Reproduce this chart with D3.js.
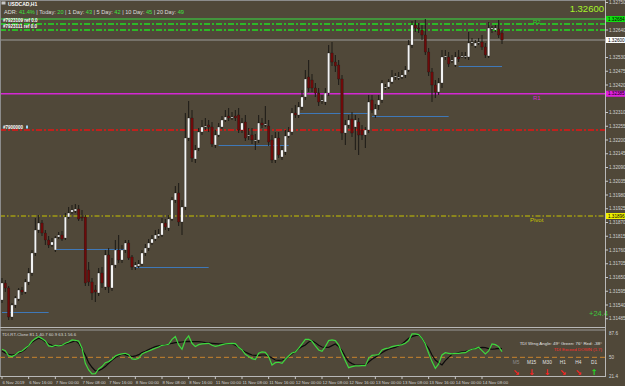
<!DOCTYPE html>
<html>
<head>
<meta charset="utf-8">
<script src="https://cdn.jsdelivr.net/npm/d3@7"></script>
<style>
  html, body { margin: 0; padding: 0; background: #504839; }
  svg { display: block; font-family: "Liberation Sans", Arial, sans-serif; }
</style>
</head>
<body>
<div id="chart"></div>
<script>
// USDCAD H1 candles, one per hour (bar 0 = 6 Nov 08:00)
const opens = [
  1.31560,1.31628,1.31608,1.31492,1.31540,1.31564,1.31600,1.31592,1.31632,1.31668,
  1.31748,1.31840,1.31868,1.31828,1.31800,1.31780,1.31760,1.31812,1.31820,1.31808,
  1.31892,1.31912,1.31916,1.31924,1.31892,1.31892,1.31680,1.31632,1.31600,1.31588,
  1.31668,1.31612,1.31740,1.31608,1.31700,1.31760,1.31720,1.31760,1.31788,1.31732,
  1.31692,1.31696,1.31704,1.31748,1.31768,1.31788,1.31804,1.31816,1.31820,1.31868,
  1.31848,1.31884,1.31960,1.31988,1.31872,1.31932,1.32208,1.32288,1.32124,1.32168,
  1.32232,1.32252,1.32260,1.32252,1.32180,1.32220,1.32252,1.32280,1.32296,1.32288,
  1.32296,1.32300,1.32240,1.32272,1.32216,1.32220,1.32196,1.32200,1.32268,1.32260,
  1.32256,1.32200,1.32120,1.32208,1.32132,1.32152,1.32216,1.32232,1.32308,1.32300,
  1.32332,1.32372,1.32452,1.32440,1.32408,1.32388,1.32356,1.32352,1.32388,1.32548,
  1.32512,1.32500,1.32444,1.32228,1.32260,1.32284,1.32252,1.32272,1.32240,1.32220,
  1.32240,1.32360,1.32300,1.32340,1.32360,1.32408,1.32412,1.32432,1.32452,1.32448,
  1.32452,1.32460,1.32480,1.32580,1.32660,1.32648,1.32640,1.32620,1.32552,1.32472,
  1.32420,1.32392,1.32428,1.32532,1.32532,1.32516,1.32500,1.32532,1.32532,1.32532,
  1.32532,1.32588,1.32576,1.32588,1.32592,1.32572,1.32536,1.32644,1.32640,1.32644,
  1.32628
];
const highs = [
  1.31648,1.31640,1.31616,1.31548,1.31576,1.31608,1.31612,1.31644,1.31688,1.31760,
  1.31888,1.31900,1.31880,1.31840,1.31816,1.31808,1.31816,1.31832,1.31836,1.31908,
  1.31932,1.31940,1.31944,1.31940,1.31920,1.31900,1.31712,1.31648,1.31620,1.31688,
  1.31692,1.31760,1.31768,1.31728,1.31800,1.31820,1.31780,1.31800,1.31800,1.31740,
  1.31712,1.31720,1.31760,1.31784,1.31804,1.31820,1.31840,1.31844,1.31888,1.31884,
  1.31900,1.31972,1.32016,1.32028,1.31960,1.32308,1.32356,1.32320,1.32180,1.32248,
  1.32280,1.32288,1.32280,1.32272,1.32240,1.32268,1.32296,1.32320,1.32328,1.32312,
  1.32320,1.32328,1.32288,1.32300,1.32248,1.32248,1.32224,1.32300,1.32288,1.32336,
  1.32280,1.32220,1.32232,1.32232,1.32176,1.32240,1.32252,1.32328,1.32340,1.32352,
  1.32400,1.32480,1.32520,1.32464,1.32428,1.32408,1.32380,1.32408,1.32580,1.32592,
  1.32540,1.32520,1.32460,1.32280,1.32300,1.32312,1.32300,1.32288,1.32260,1.32252,
  1.32380,1.32380,1.32344,1.32380,1.32440,1.32424,1.32444,1.32480,1.32468,1.32472,
  1.32480,1.32496,1.32600,1.32676,1.32680,1.32668,1.32660,1.32684,1.32568,1.32488,
  1.32440,1.32448,1.32560,1.32560,1.32552,1.32540,1.32552,1.32560,1.32552,1.32552,
  1.32632,1.32608,1.32600,1.32608,1.32620,1.32588,1.32672,1.32656,1.32660,1.32680,
  1.32640
];
const lows = [
  1.31548,1.31592,1.31480,1.31480,1.31528,1.31556,1.31580,1.31584,1.31620,1.31656,
  1.31736,1.31828,1.31816,1.31780,1.31768,1.31772,1.31752,1.31804,1.31796,1.31800,
  1.31884,1.31904,1.31908,1.31876,1.31876,1.31616,1.31616,1.31560,1.31552,1.31576,
  1.31608,1.31600,1.31588,1.31596,1.31688,1.31708,1.31708,1.31748,1.31720,1.31680,
  1.31680,1.31688,1.31696,1.31736,1.31756,1.31780,1.31796,1.31808,1.31812,1.31840,
  1.31836,1.31876,1.31948,1.31856,1.31820,1.31920,1.32196,1.32112,1.32108,1.32156,
  1.32220,1.32240,1.32232,1.32172,1.32168,1.32212,1.32244,1.32272,1.32276,1.32280,
  1.32276,1.32228,1.32228,1.32196,1.32200,1.32184,1.32160,1.32188,1.32248,1.32252,
  1.32176,1.32108,1.32108,1.32128,1.32120,1.32140,1.32208,1.32220,1.32288,1.32288,
  1.32320,1.32360,1.32392,1.32392,1.32372,1.32336,1.32344,1.32340,1.32376,1.32496,
  1.32472,1.32420,1.32200,1.32180,1.32248,1.32212,1.32160,1.32140,1.32200,1.32168,
  1.32228,1.32308,1.32288,1.32320,1.32348,1.32400,1.32404,1.32424,1.32440,1.32440,
  1.32444,1.32448,1.32472,1.32568,1.32632,1.32628,1.32600,1.32540,1.32456,1.32352,
  1.32368,1.32380,1.32408,1.32520,1.32492,1.32508,1.32492,1.32512,1.32528,1.32524,
  1.32520,1.32576,1.32568,1.32580,1.32560,1.32528,1.32528,1.32628,1.32632,1.32608,
  1.32584
];
const closes = [
  1.31628,1.31608,1.31492,1.31540,1.31568,1.31600,1.31592,1.31632,1.31668,1.31748,
  1.31840,1.31868,1.31828,1.31800,1.31780,1.31792,1.31808,1.31820,1.31804,1.31892,
  1.31908,1.31920,1.31924,1.31884,1.31888,1.31628,1.31632,1.31588,1.31592,1.31668,
  1.31628,1.31740,1.31612,1.31700,1.31760,1.31720,1.31760,1.31788,1.31728,1.31692,
  1.31700,1.31704,1.31748,1.31768,1.31788,1.31804,1.31820,1.31824,1.31868,1.31852,
  1.31884,1.31960,1.31988,1.31872,1.31932,1.32208,1.32288,1.32128,1.32160,1.32232,
  1.32252,1.32256,1.32252,1.32184,1.32220,1.32252,1.32280,1.32292,1.32288,1.32292,
  1.32288,1.32240,1.32268,1.32208,1.32220,1.32200,1.32200,1.32268,1.32260,1.32264,
  1.32192,1.32120,1.32208,1.32140,1.32160,1.32216,1.32232,1.32308,1.32300,1.32332,
  1.32372,1.32444,1.32408,1.32408,1.32388,1.32352,1.32360,1.32388,1.32548,1.32512,
  1.32496,1.32444,1.32228,1.32260,1.32280,1.32228,1.32280,1.32220,1.32220,1.32240,
  1.32352,1.32320,1.32324,1.32360,1.32428,1.32412,1.32432,1.32452,1.32456,1.32452,
  1.32460,1.32480,1.32580,1.32660,1.32648,1.32644,1.32620,1.32552,1.32472,1.32420,
  1.32392,1.32428,1.32532,1.32536,1.32504,1.32520,1.32532,1.32524,1.32536,1.32536,
  1.32588,1.32592,1.32588,1.32592,1.32572,1.32540,1.32648,1.32648,1.32648,1.32620,
  1.32600
];

// TDI sub-window: green price line and black signal line
const tdiGreen = [
  62.4,60.3,52.1,51.1,54.1,58.3,59.8,63.9,68.0,74.7,
  78.8,81.9,78.8,75.2,67.5,66.5,68.5,67.5,68.5,71.6,
  73.6,76.7,76.2,75.2,63.9,40.8,30.5,24.4,24.9,32.1,
  35.7,41.8,43.4,47.0,52.1,54.1,55.2,56.2,54.1,47.5,
  47.0,48.5,55.2,57.7,59.8,61.8,63.9,65.9,68.5,69.0,
  70.1,77.7,81.9,69.0,62.4,76.7,82.9,71.6,66.5,69.5,
  70.6,71.1,71.6,68.5,67.0,68.0,69.5,70.6,71.1,71.6,
  71.1,65.4,61.3,54.7,51.1,48.0,46.5,56.2,58.3,57.7,
  51.1,38.2,41.8,42.4,40.8,47.0,52.1,56.7,58.3,63.9,
  70.6,77.7,77.7,74.7,67.5,61.3,59.3,66.5,75.7,76.7,
  75.7,69.0,56.2,44.9,34.1,35.7,36.7,36.7,37.2,37.2,
  48.5,53.1,53.6,54.1,61.3,63.4,64.4,66.5,67.5,68.5,
  69.5,71.6,75.7,86.0,86.0,84.9,79.3,70.6,56.2,43.4,
  33.1,39.8,53.6,57.2,56.2,55.2,56.2,56.2,56.7,57.2,
  60.3,62.4,63.4,65.4,60.3,55.2,59.8,70.6,69.5,66.5,
  58.8
];
const tdiSignal = [
  59.8,56.7,54.7,53.6,54.7,56.7,58.8,62.4,68.5,73.1,
  76.7,79.3,77.7,73.6,70.6,68.5,67.5,68.0,69.0,70.6,
  72.1,73.6,75.7,71.6,62.4,53.6,41.8,34.7,29.0,29.5,
  32.1,35.7,40.8,45.4,49.5,52.6,54.7,54.1,52.6,51.1,
  52.1,54.1,57.2,59.3,61.8,64.4,66.5,67.5,68.5,69.0,
  70.1,71.6,72.6,73.1,73.6,74.2,74.7,74.2,74.2,74.2,
  73.6,72.6,72.1,71.6,71.1,70.6,70.6,70.6,70.6,70.6,
  68.5,65.4,61.3,58.3,55.7,53.6,53.1,53.1,53.6,53.6,
  52.1,49.0,45.9,45.4,45.9,47.0,51.1,55.2,58.8,62.9,
  66.5,69.0,73.6,75.7,72.6,68.5,65.9,65.4,65.4,68.0,
  70.6,66.5,60.3,51.1,43.4,40.3,38.2,38.2,38.2,38.2,
  42.9,47.0,50.0,53.6,57.2,60.3,62.4,63.9,65.4,68.0,
  70.6,74.7,79.3,81.9,83.4,84.4,79.3,70.6,63.9,53.6,
  45.9,41.8,38.2,44.9,50.0,54.7,56.2,57.2,58.3,58.8,
  60.3,62.4,63.9,64.4,65.4,64.9,63.4,62.4,62.9,63.9,
  63.4
];

// time axis: label every 8 bars
const timeLabels = ["6 Nov 2019","6 Nov 16:00","7 Nov 00:00","7 Nov 08:00","7 Nov 16:00",
  "8 Nov 00:00","8 Nov 08:00","8 Nov 16:00","11 Nov 00:00","11 Nov 08:00","11 Nov 16:00",
  "12 Nov 00:00","12 Nov 08:00","12 Nov 16:00","13 Nov 00:00","13 Nov 08:00","13 Nov 16:00",
  "14 Nov 00:00","14 Nov 08:00"];
const timeBars = [0,8,16,24,32,40,48,56,64,72,80,88,96,104,112,120,128,136,144];

// price axis ticks
const priceTicks = [1.32750,1.32695,1.32640,1.32585,1.32530,1.32475,1.32420,1.32365,1.32310,
  1.32255,1.32200,1.32145,1.32090,1.32035,1.31980,1.31925,1.31870,1.31815,1.31760,1.31705,
  1.31650,1.31595,1.31540,1.31485];

// horizontal levels
const levelPrices = [1.32684, 1.32664, 1.32640, 1.32600, 1.32385, 1.32240, 1.31896];
const levelNames  = ["", "R2", "", "", "R1", "", "Pivot"];

// short support/resistance segments
const segPrices = [1.31512, 1.31764, 1.31692, 1.32180, 1.32308, 1.32296, 1.32496];
const segFrom   = [0, 16, 40, 65, 89, 111, 137];
const segTo     = [14, 37, 62, 86, 110, 134, 150];

// TDI indicator scale labels
const tdiTicks = [87.6, 50, 21.4];

// dashboard
const tfNames = ["M5","M15","M30","H1","H4","D1"];
const tfArrows = ["\u2198","\u2193","\u2193","\u2198","\u2198","\u2191"];
const adrParts = [["ADR: ",0],["41.4%",1],[" | Today: ",0],["20",1],[" | 1 Day: ",0],["43",1],
  [" | 5 Day: ",0],["42",1],[" | 10 Day: ",0],["45",1],[" | 20 Day: ",0],["49",1]];

// ---------- drawing ----------
const width = 625, height = 386;
const axisX = 605;
const bg = "#504839";

const svg = d3.select("#chart").append("svg")
  .attr("width", width).attr("height", height);

svg.append("rect").attr("width", width).attr("height", height).attr("fill", bg);

const defs = svg.append("defs");
defs.append("clipPath").attr("id", "mainClip")
  .append("rect").attr("x", 0).attr("y", 0).attr("width", axisX).attr("height", 327);
defs.append("clipPath").attr("id", "subClip")
  .append("rect").attr("x", 0).attr("y", 331).attr("width", axisX).attr("height", 45);

const x = d3.scaleLinear().domain([0, 150]).range([2, 502]);
const y = d3.scaleLinear().domain([1.31452, 1.32760]).range([327, 0]);
const yi = d3.scaleLinear().domain([21.4, 87.6]).range([375.9, 332.9]);

const main = svg.append("g").attr("clip-path", "url(#mainClip)");

// segments
main.append("g").selectAll("line")
  .data(segPrices).enter()
  .append("line")
    .attr("x1", (d, i) => x(segFrom[i]))
    .attr("x2", (d, i) => x(segTo[i]))
    .attr("y1", d => Math.round(y(d)) + 0.5)
    .attr("y2", d => Math.round(y(d)) + 0.5)
    .attr("stroke", "#3f78b8")
    .attr("stroke-width", 1);

// level lines
const levelStyle = [
  { c: "#3fae3f", w: 1.6, dash: null },
  { c: "#22dd22", w: 1.3, dash: "6,2,2,2" },
  { c: "#22dd22", w: 1.3, dash: "6,2,2,2" },
  { c: "#9c9c9c", w: 1, dash: null },
  { c: "#d428d4", w: 1.3, dash: null },
  { c: "#e41414", w: 1.5, dash: "6,2,2,2" },
  { c: "#c8c400", w: 1.2, dash: "5,2,1.5,2" }
];
main.append("g").selectAll("line")
  .data(levelPrices).enter()
  .append("line")
    .attr("x1", 0).attr("x2", axisX)
    .attr("y1", d => y(d)).attr("y2", d => y(d))
    .attr("stroke", (d, i) => levelStyle[i].c)
    .attr("stroke-width", (d, i) => levelStyle[i].w)
    .attr("stroke-dasharray", (d, i) => levelStyle[i].dash);

// candles
const candles = main.append("g").selectAll("g")
  .data(d3.range(opens.length)).enter()
  .append("g");

candles.append("line")
  .attr("x1", i => x(i)).attr("x2", i => x(i))
  .attr("y1", i => y(highs[i])).attr("y2", i => y(lows[i]))
  .attr("stroke", "#1c1a16").attr("stroke-width", 1);

candles.append("rect")
  .attr("x", i => x(i) - 1.2)
  .attr("width", 2.4)
  .attr("y", i => y(Math.max(opens[i], closes[i])))
  .attr("height", i => Math.max(1, Math.abs(y(opens[i]) - y(closes[i]))))
  .attr("fill", i => closes[i] >= opens[i] ? "#f4f4f4" : "#6e0a0a")
  .attr("stroke", "#1c1a16").attr("stroke-width", 0.3);

// level names
main.append("g").selectAll("text")
  .data(levelPrices).enter()
  .append("text")
    .attr("x", (d, i) => levelNames[i] === "Pivot" ? 530 : 533)
    .attr("y", (d, i) => levelNames[i] === "R2" ? y(d) - 0.5 : y(d) + 6)
    .attr("fill", (d, i) => levelStyle[i].c)
    .style("font-size", "6px")
    .text((d, i) => levelNames[i]);

// object labels at left
const objLabels = [["#7923109 ref 0.0", 22], ["#7923111 ref 0.0", 28], ["#7900000", 129]];
svg.append("g").selectAll("text")
  .data(objLabels).enter()
  .append("text")
    .attr("x", 3).attr("y", d => d[1])
    .attr("fill", "#ffffff")
    .style("font-size", "4.5px")
    .style("font-weight", "bold")
    .text(d => d[0]);
svg.append("rect").attr("x", 26).attr("y", 125.5).attr("width", 2).attr("height", 3).attr("fill", "#9fd8ff");

// header
svg.append("rect").attr("x", 1.5).attr("y", 1.5).attr("width", 4).attr("height", 3).attr("fill", "#c8c8c8");
svg.append("text").attr("x", 8).attr("y", 6)
  .attr("fill", "#ffffff").style("font-size", "5px").style("font-weight", "bold")
  .text("USDCAD,H1");
const adr = svg.append("text").attr("x", 4).attr("y", 13.5).style("font-size", "5.6px");
adr.selectAll("tspan").data(adrParts).enter().append("tspan")
  .attr("fill", d => d[1] ? "#3ee23e" : "#dcdcdc")
  .text(d => d[0]);

// big current price and pips
svg.append("text").attr("x", 604).attr("y", 11.5).attr("text-anchor", "end")
  .attr("fill", "#a6f52a").style("font-size", "9.5px")
  .text(d3.format(".5f")(closes[closes.length - 1]));
svg.append("text").attr("x", 589).attr("y", 316)
  .attr("fill", "#3cc83c").style("font-size", "7.5px")
  .text("+24.4");

// frame
svg.append("line").attr("x1", 0).attr("x2", axisX).attr("y1", 0.5).attr("y2", 0.5).attr("stroke", "#8c8c8c");
svg.append("line").attr("x1", 0.5).attr("x2", 0.5).attr("y1", 0).attr("y2", 377).attr("stroke", "#8c8c8c");
svg.append("line").attr("x1", axisX + 0.5).attr("x2", axisX + 0.5).attr("y1", 0).attr("y2", 377).attr("stroke", "#b8b8b8");
svg.append("line").attr("x1", 0).attr("x2", axisX).attr("y1", 327.5).attr("y2", 327.5).attr("stroke", "#b8b8b8");
svg.append("line").attr("x1", 0).attr("x2", axisX).attr("y1", 330).attr("y2", 330).attr("stroke", "#9a9a9a");
svg.append("line").attr("x1", 0).attr("x2", axisX).attr("y1", 376.5).attr("y2", 376.5).attr("stroke", "#b8b8b8");

// price boxes for levels
const boxLevels = [0, 3, 4, 6];
const boxFill = ["#10e010", "#ffffff", "#e020e0", "#f0f000"];

// price axis (labels hidden where a level box sits)
const visibleTicks = priceTicks.filter(d => y(d) > 1 && y(d) < 326 &&
  boxLevels.every(b => Math.abs(y(levelPrices[b]) - y(d)) > 5.5));
const pAxis = svg.append("g");
pAxis.selectAll("line").data(visibleTicks).enter()
  .append("line")
    .attr("x1", axisX).attr("x2", axisX + 3)
    .attr("y1", d => y(d)).attr("y2", d => y(d))
    .attr("stroke", "#c8c8c8");
pAxis.selectAll("text").data(visibleTicks).enter()
  .append("text")
    .attr("x", axisX + 4).attr("y", d => y(d) + 1.6)
    .attr("fill", "#d2d2d2").style("font-size", "4.6px")
    .text(d => d3.format(".5f")(d));

const boxes = svg.append("g").selectAll("g").data(boxLevels).enter().append("g");
boxes.append("rect")
  .attr("x", axisX + 1).attr("y", d => y(levelPrices[d]) - 3)
  .attr("width", 19).attr("height", 6)
  .attr("fill", (d, i) => boxFill[i]);
boxes.append("text")
  .attr("x", axisX + 3).attr("y", d => y(levelPrices[d]) + 1.6)
  .attr("fill", "#000000").style("font-size", "4.6px")
  .text(d => d3.format(".5f")(levelPrices[d]));

// TDI sub-window
const sub = svg.append("g").attr("clip-path", "url(#subClip)");
sub.append("line")
  .attr("x1", 0).attr("x2", axisX)
  .attr("y1", yi(50)).attr("y2", yi(50))
  .attr("stroke", "#c8842e").attr("stroke-width", 1)
  .attr("stroke-dasharray", "5,3");

const tdiLine = d3.line().x((d, i) => x(i)).y(d => yi(d));
sub.append("path").datum(tdiSignal)
  .attr("d", tdiLine).attr("fill", "none")
  .attr("stroke", "#0c0c0c").attr("stroke-width", 1.2);
sub.append("path").datum(tdiGreen)
  .attr("d", tdiLine).attr("fill", "none")
  .attr("stroke", "#3ed83e").attr("stroke-width", 1.2);

svg.append("text").attr("x", 2).attr("y", 335.5)
  .attr("fill", "#d8d8d8").style("font-size", "4.3px")
  .text("TDI-RT-Clone 81.1 40.7 60.9 63.1 56.6");

svg.append("g").selectAll("text").data(tdiTicks).enter()
  .append("text")
    .attr("x", axisX + 4).attr("y", d => yi(d) + 1.6)
    .attr("fill", "#d2d2d2").style("font-size", "4.6px")
    .text(d => d);

// dashboard
svg.append("text").attr("x", 602).attr("y", 344.5).attr("text-anchor", "end")
  .attr("fill", "#e2e2e2").style("font-size", "4.4px")
  .text("TDI Wrng Angle: 49\u00b0   Green: 76\u00b0   Red: -38\u00b0");
svg.append("text").attr("x", 602).attr("y", 350.5).attr("text-anchor", "end")
  .attr("fill", "#ff2a2a").style("font-size", "4.4px")
  .text("TDI Exceed DOWN (1.7)");

const tfX = d3.scalePoint().domain(tfNames).range([516, 594]);
svg.append("g").selectAll("text").data(tfNames).enter()
  .append("text")
    .attr("x", d => tfX(d)).attr("y", 364).attr("text-anchor", "middle")
    .attr("fill", (d, i) => i === 0 ? "#8c8c8c" : "#e0e0e0")
    .style("font-size", "4.8px")
    .text(d => d);
svg.append("g").selectAll("text").data(tfNames).enter()
  .append("text")
    .attr("x", d => tfX(d)).attr("y", 374.5).attr("text-anchor", "middle")
    .attr("fill", (d, i) => tfArrows[i] === "\u2191" ? "#22e022" : "#ff2020")
    .style("font-family", "DejaVu Sans")
    .style("font-weight", "bold")
    .style("font-size", "8px")
    .text((d, i) => tfArrows[i]);

// time axis
const tAxis = svg.append("g");
tAxis.selectAll("line").data(timeBars).enter()
  .append("line")
    .attr("x1", d => x(d)).attr("x2", d => x(d))
    .attr("y1", 376.5).attr("y2", 379)
    .attr("stroke", "#c8c8c8");
tAxis.selectAll("text").data(timeBars).enter()
  .append("text")
    .attr("x", d => x(d) + 0.5).attr("y", 383.5)
    .attr("fill", "#d2d2d2").style("font-size", "4.3px")
    .text((d, i) => timeLabels[i]);
</script>
</body>
</html>
